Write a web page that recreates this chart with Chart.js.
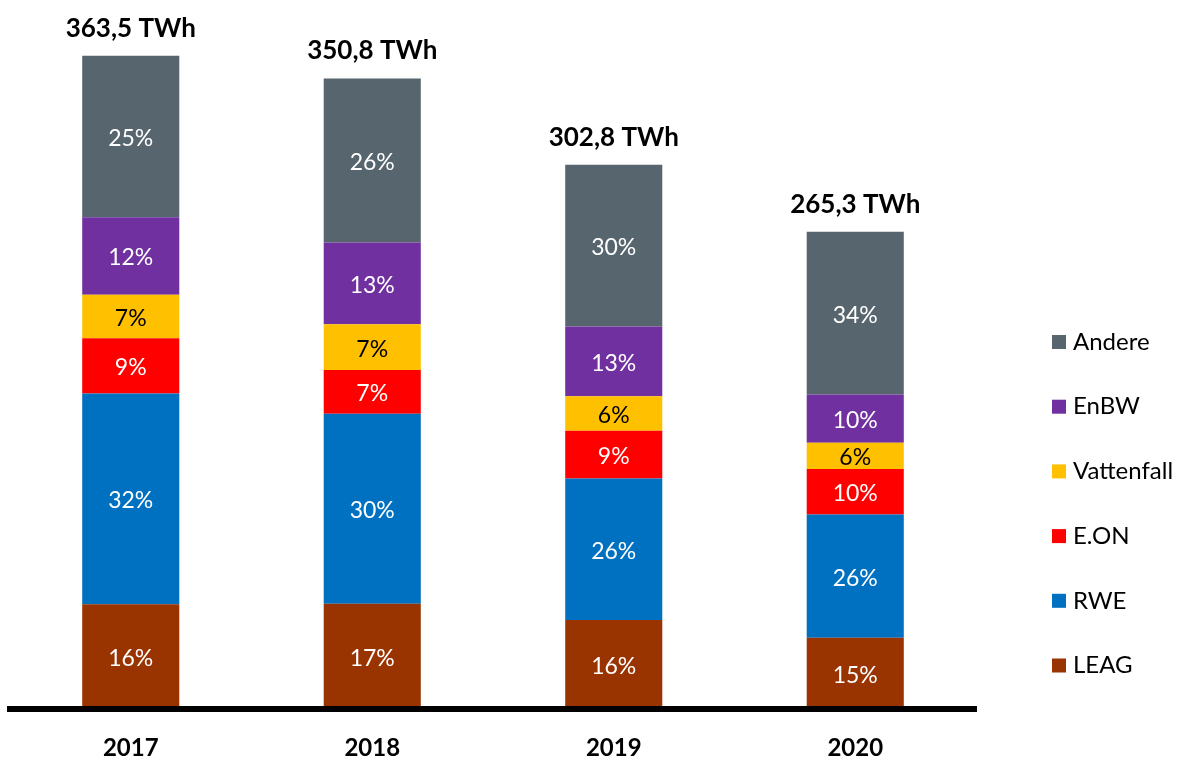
<!DOCTYPE html>
<html>
<head>
<meta charset="utf-8">
<script src="https://cdn.jsdelivr.net/npm/chart.js@4.4.1/dist/chart.umd.min.js"></script>
<style>
  html, body { margin: 0; padding: 0; background: #fff; }
</style>
</head>
<body>
<canvas id="stromChart" width="1187" height="760"></canvas>
<script>
// Werte in TWh
const years = ['2017', '2018', '2019', '2020'];
const totals = [363.5, 350.8, 302.8, 265.3];

const leag       = [58.0, 58.3, 49.3, 39.4];
const rwe        = [117.4, 105.8, 78.8, 68.6];
const eon        = [30.8, 24.3, 26.6, 25.4];
const vattenfall = [24.2, 25.6, 19.1, 14.5];
const enbw       = [43.1, 45.4, 38.9, 26.9];
const andere     = [89.9, 91.4, 90.1, 90.6];

// Anteile wie beschriftet (%)
const leagShare       = [16, 17, 16, 15];
const rweShare        = [32, 30, 26, 26];
const eonShare        = [9, 7, 9, 10];
const vattenfallShare = [7, 7, 6, 6];
const enbwShare       = [12, 13, 13, 10];
const andereShare     = [25, 26, 30, 34];

const FONT = 'Lato';

function serie(label, data, shares, color, textColor) {
    return {
        label: label,
        data: data,
        shares: shares,
        labelColor: textColor,
        backgroundColor: color,
        borderWidth: 0,
        barPercentage: 0.402,
        categoryPercentage: 1.0
    };
}

const datasets = [
    serie('LEAG', leag, leagShare, '#993300', '#fff'),
    serie('RWE', rwe, rweShare, '#0070c0', '#fff'),
    serie('E.ON', eon, eonShare, '#ff0000', '#fff'),
    serie('Vattenfall', vattenfall, vattenfallShare, '#ffc000', '#000'),
    serie('EnBW', enbw, enbwShare, '#7030a0', '#fff'),
    serie('Andere', andere, andereShare, '#57656e', '#fff')
];

// Prozentwerte in den Segmenten + Summen über den Säulen
const segmentLabels = {
    id: 'segmentLabels',
    afterDatasetsDraw(chart) {
        const ctx = chart.ctx;
        ctx.save();
        ctx.textAlign = 'center';
        ctx.textBaseline = 'middle';
        ctx.font = '23px ' + FONT;
        chart.data.datasets.forEach((ds, i) => {
            chart.getDatasetMeta(i).data.forEach((bar, j) => {
                ctx.fillStyle = ds.labelColor;
                ctx.fillText(ds.shares[j] + '%', bar.x, (bar.y + bar.base) / 2 + 2);
            });
        });

        const topMeta = chart.getDatasetMeta(chart.data.datasets.length - 1);
        ctx.font = 'bold 26px ' + FONT;
        ctx.fillStyle = '#000';
        ctx.textBaseline = 'alphabetic';
        topMeta.data.forEach((bar, j) => {
            const txt = totals[j].toFixed(1).replace('.', ',') + ' TWh';
            ctx.fillText(txt, bar.x, bar.y - 19);
        });
        ctx.restore();
    }
};

// Legende rechts, umgekehrte Reihenfolge
const sideLegend = {
    id: 'sideLegend',
    afterDraw(chart) {
        const ctx = chart.ctx;
        const items = chart.data.datasets.slice().reverse();
        ctx.save();
        ctx.font = '24px ' + FONT;
        ctx.textAlign = 'left';
        ctx.textBaseline = 'middle';
        items.forEach((ds, i) => {
            const y = 342 + i * 64.7;
            ctx.fillStyle = ds.backgroundColor;
            ctx.fillRect(1052, y - 7, 14, 14);
            ctx.fillStyle = '#000';
            ctx.fillText(ds.label, 1073, y);
        });
        ctx.restore();
    }
};

const ctx = document.getElementById('stromChart').getContext('2d');

new Chart(ctx, {
    type: 'bar',
    data: {
        labels: years,
        datasets: datasets
    },
    options: {
        responsive: false,
        animation: false,
        layout: {
            padding: { left: 10, right: 211, top: 26, bottom: 0 }
        },
        plugins: {
            legend: { display: false },
            tooltip: { enabled: false }
        },
        scales: {
            x: {
                stacked: true,
                grid: { display: false, drawTicks: false },
                border: { display: true, color: '#000', width: 6, z: 1 },
                ticks: {
                    color: '#000',
                    padding: 25,
                    font: { family: FONT, size: 24, weight: 'bold' }
                },
                afterFit: (scale) => { scale.height = 51.5; }
            },
            y: {
                stacked: true,
                display: false,
                min: 0,
                max: 380
            }
        }
    },
    plugins: [segmentLabels, sideLegend]
});
</script>
</body>
</html>
